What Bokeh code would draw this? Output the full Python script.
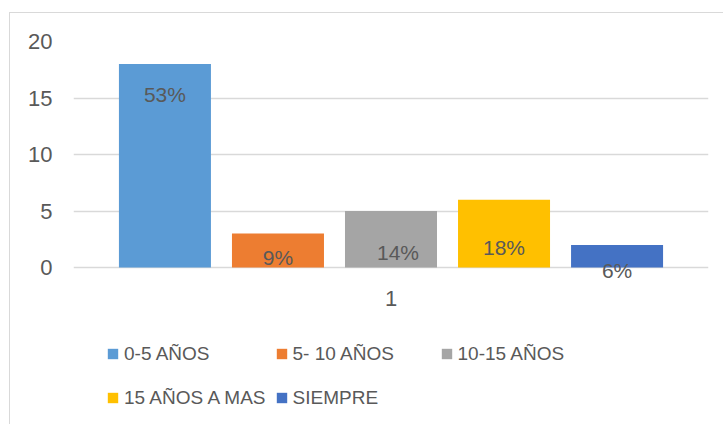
from bokeh.plotting import figure
from bokeh.models import (ColumnDataSource, FactorRange, Legend, LegendItem,
                          LabelSet, CategoricalAxis)
from bokeh.core.properties import value
from bokeh.transform import dodge
from bokeh.embed import file_html
from bokeh.resources import INLINE

# ---- data ----
category = ["1"]
series = ["0-5 AÑOS", "5- 10 AÑOS", "10-15 AÑOS", "15 AÑOS A MAS", "SIEMPRE"]
values = [18, 3, 5, 6, 2]
pct_labels = ["53%", "9%", "14%", "18%", "6%"]
colors = ["#5B9BD5", "#ED7D31", "#A5A5A5", "#FFC000", "#4472C4"]

# ---- styling / placement (not data) ----
dodges = [-0.356, -0.178, 0.0, 0.178, 0.356]
lbl_dy = [-30, -24, -41, -48, -26]
lbl_dx = [0, 0, 7, 0, 0]
legend_order = [0, 3, 1, 4, 2]   # column-major fill -> row-major look
FONT = "Liberation Sans"
TXT = "#595959"

p = figure(width=714, height=412, x_range=FactorRange(factors=category, range_padding=0),
           y_range=(-13.98, 20), output_backend="svg", toolbar_location=None,
           x_axis_location=None,
           min_border_left=63, min_border_right=16, min_border_top=28,
           min_border_bottom=0)
p.margin = (12, 0, 0, 9)
p.styles = {"border-top": "1px solid #d9d9d9", "border-left": "1px solid #d9d9d9"}
p.outline_line_color = None
p.background_fill_color = "white"
p.border_fill_color = "white"

items = []
for i, s in enumerate(series):
    src = ColumnDataSource(dict(cat=category, val=[values[i]], lab=[pct_labels[i]]))
    r = p.vbar(x=dodge("cat", dodges[i], range=p.x_range), top="val", bottom=0,
               width=0.1449, source=src, fill_color=colors[i], line_color=None)
    items.append(LegendItem(label=s, renderers=[r]))
    ls = LabelSet(x=dodge("cat", dodges[i], range=p.x_range), y="val", text="lab",
                  source=src, text_align="center", text_baseline="middle",
                  x_offset=lbl_dx[i], y_offset=lbl_dy[i], text_font=value(FONT),
                  text_font_size="21px", text_color=TXT)
    p.add_layout(ls)

# axes
p.yaxis.ticker = [0, 5, 10, 15, 20]
p.yaxis.axis_line_color = None
p.yaxis.major_tick_line_color = None
p.yaxis.minor_tick_line_color = None
p.yaxis.major_tick_out = 0
p.yaxis.major_tick_in = 0
p.yaxis.major_label_text_font = FONT
p.yaxis.major_label_text_font_size = "22px"
p.yaxis.major_label_text_color = TXT
p.yaxis.major_label_standoff = 21

xax = CategoricalAxis(fixed_location=0)
xax.axis_line_color = None
xax.major_tick_line_color = None
xax.minor_tick_line_color = None
xax.major_tick_out = 0
xax.major_tick_in = 0
xax.major_label_text_font = FONT
xax.major_label_text_font_size = "22px"
xax.major_label_text_color = TXT
xax.major_label_standoff = 23
p.add_layout(xax, "below")

p.xgrid.grid_line_color = None
p.ygrid.grid_line_color = "#d9d9d9"
p.ygrid.grid_line_width = 1.5

legend = Legend(items=[items[k] for k in legend_order], ncols=3, location=(33, 10),
                margin=0, padding=0, spacing=9, glyph_width=13, glyph_height=13,
                label_standoff=5, label_width=138, label_height=35,
                label_text_font=FONT, label_text_font_size="19px",
                label_text_color=TXT, border_line_color=None,
                background_fill_alpha=0)
p.add_layout(legend, "center")

open("out.html", "w").write(file_html(p, INLINE))
